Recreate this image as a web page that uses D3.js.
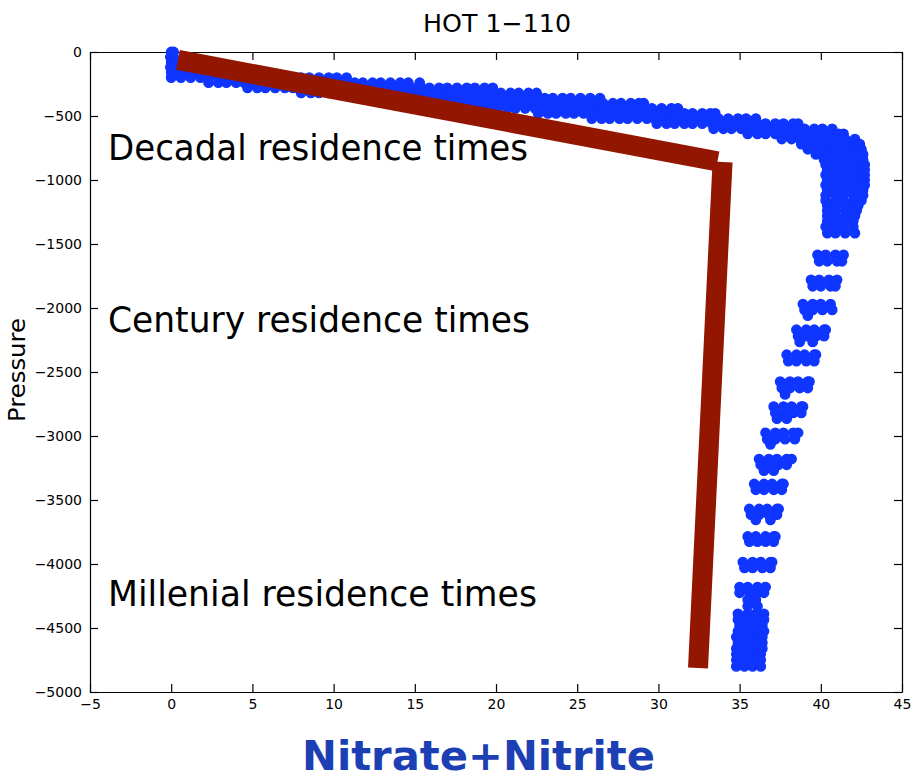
<!DOCTYPE html>
<html><head><meta charset="utf-8">
<script src="https://cdn.jsdelivr.net/npm/d3@7"></script>
<style>body{margin:0;background:#fff}</style>
</head><body>
<svg id="chart" width="919" height="784"></svg>
<script>
// ---------- data ----------
const chartTitle = "HOT 1\u2212110";
const yAxisLabel = "Pressure";
const xAxisLabel = "Nitrate+Nitrite";
const annotationTexts = ["Decadal residence times", "Century residence times", "Millenial residence times"];

const xTickValues = [-5, 0, 5, 10, 15, 20, 25, 30, 35, 40, 45];
const yTickValues = [0, -500, -1000, -1500, -2000, -2500, -3000, -3500, -4000, -4500, -5000];

// sample pressure (dbar) and the nitrate+nitrite values observed at that pressure
const pressureLevels = [
  0, 40, 80, 120, 160, 200, 240, 280, 320, 360, 400, 440, 480, 520, 560, 600, 640, 680, 720, 760,
  800, 840, 880, 920, 960, 1000, 1040, 1080, 1120, 1160, 1200, 1240, 1280, 1320,
  1365, 1415, 1585, 1635, 1780, 1830, 1970, 2015, 2060, 2170, 2220, 2265, 2365, 2415,
  2575, 2625, 2675, 2770, 2820, 2865, 2975, 3025, 3065, 3180, 3225, 3270, 3375, 3420,
  3570, 3615, 3655, 3785, 3825, 3985, 4030, 4180, 4225, 4280, 4330,
  4390, 4435, 4480, 4525, 4570, 4615, 4660, 4705, 4750, 4800
];
const nitrateAtLevel = [
  [0.0, 0.15], [-0.05, 0.15], [0.0, 0.2], [-0.05, 0.2],
  [0.0, 0.5, 1.1, 1.6, 2.2, 2.8, 3.3, 3.9, 4.4, 5.0],
  [0.0, 0.6, 1.2, 1.8, 2.3, 2.9, 3.5, 4.0, 4.6, 5.2, 5.7, 6.3, 6.8, 7.4, 8.0, 8.5, 9.1, 9.7, 10.2, 10.8],
  [2.3, 2.9, 3.4, 4.0, 4.5, 5.1, 5.7, 6.2, 6.8, 7.3, 7.9, 8.5, 9.0, 9.6, 10.1, 10.7, 11.3, 11.8, 12.4, 12.9, 13.5, 14.1, 14.6, 15.3],
  [4.7, 5.3, 5.8, 6.4, 7.0, 7.5, 8.1, 8.6, 9.2, 9.8, 10.3, 10.9, 11.4, 12.0, 12.6, 13.1, 13.7, 14.2, 14.8, 15.4, 15.9, 16.5, 17.0, 17.6, 18.2, 18.7, 19.3, 19.8],
  [8.0, 8.6, 9.1, 9.7, 10.2, 10.8, 11.4, 11.9, 12.5, 13.0, 13.6, 14.2, 14.7, 15.3, 15.8, 16.4, 17.0, 17.5, 18.1, 18.6, 19.2, 19.8, 20.3, 20.9, 21.4, 22.0, 22.5],
  [14.0, 14.6, 15.1, 15.7, 16.2, 16.8, 17.4, 17.9, 18.5, 19.0, 19.6, 20.2, 20.7, 21.3, 21.8, 22.4, 23.0, 23.5, 24.1, 24.6, 25.2, 25.8, 26.4],
  [16.5, 17.1, 17.6, 18.2, 18.8, 19.3, 19.9, 20.4, 21.0, 21.6, 22.1, 22.7, 23.2, 23.8, 24.4, 24.9, 25.5, 26.0, 26.6, 27.2, 27.7, 28.3, 28.8, 29.1],
  [19.0, 19.6, 20.1, 20.7, 21.2, 21.8, 22.4, 22.9, 23.5, 24.0, 24.6, 25.2, 25.7, 26.3, 26.8, 27.4, 28.0, 28.5, 29.1, 29.6, 30.2, 30.8, 31.2],
  [22.6, 23.2, 23.7, 24.3, 24.8, 25.4, 26.0, 26.5, 27.1, 27.6, 28.2, 28.8, 29.3, 29.9, 30.4, 31.0, 31.6, 32.1, 32.7, 33.2, 33.5],
  [25.9, 26.5, 27.0, 27.6, 28.1, 28.7, 29.3, 29.8, 30.4, 30.9, 31.5, 32.1, 32.6, 33.2, 33.7, 34.3, 34.9, 35.4, 36.0],
  [29.9, 30.5, 31.0, 31.6, 32.1, 32.7, 33.3, 33.8, 34.4, 34.9, 35.5, 36.1, 36.6, 37.2, 37.7, 38.3, 38.6],
  [33.4, 34.0, 34.5, 35.1, 35.6, 36.2, 36.8, 37.3, 37.9, 38.4, 39.0, 39.6, 40.1, 40.7],
  [35.5, 36.1, 36.6, 37.2, 37.7, 38.3, 38.9, 39.4, 40.0, 40.5, 41.1, 41.4],
  [37.6, 38.2, 38.7, 39.3, 39.8, 40.4, 41.0, 41.5, 42.1],
  [38.8, 39.4, 39.9, 40.5, 41.0, 41.6, 42.1, 42.4],
  [39.2, 39.8, 40.3, 40.9, 41.4, 42.0, 42.5],
  [39.7, 40.3, 40.8, 41.4, 41.9, 42.4, 42.6],
  [40.2, 40.8, 41.3, 41.9, 42.4, 42.6],
  [40.3, 40.9, 41.4, 42.0, 42.5, 42.7],
  [40.4, 40.9, 41.5, 42.0, 42.4, 42.7],
  [40.3, 40.8, 41.4, 41.9, 42.5, 42.7],
  [40.4, 40.9, 41.5, 42.0, 42.5, 42.7],
  [40.3, 40.9, 41.4, 42.0, 42.4, 42.7],
  [40.4, 40.9, 41.5, 42.1, 42.6],
  [40.3, 40.9, 41.4, 42.0, 42.6],
  [40.3, 40.9, 41.4, 42.0, 42.5],
  [40.4, 40.9, 41.5, 42.0, 42.3],
  [40.4, 40.9, 41.5, 42.0, 42.2],
  [40.4, 40.9, 41.5, 42.1],
  [40.4, 41.0, 41.5, 42.0],
  [40.3, 40.9, 41.4, 42.0], [40.4, 40.9, 41.5, 42.1],
  [39.8, 40.3, 40.9, 41.4], [39.9, 40.4, 41.0, 41.3],
  [39.4, 39.9, 40.5, 41.0], [39.5, 40.0, 40.6, 40.9],
  [38.9, 39.5, 40.0, 40.6], [39.0, 39.5, 40.1, 40.7], [39.2],
  [38.5, 39.1, 39.6, 40.2, 40.3], [38.6, 39.1, 39.7, 40.2], [38.7, 39.5],
  [37.9, 38.5, 39.0, 39.6, 39.7], [38.0, 38.5, 39.1, 39.6],
  [37.5, 38.1, 38.6, 39.2, 39.3], [37.6, 38.1, 38.7, 39.2], [37.8],
  [37.1, 37.7, 38.2, 38.8, 38.9], [37.2, 37.7, 38.3, 38.8], [37.3, 37.9],
  [36.6, 37.2, 37.7, 38.3, 38.6], [36.7, 37.2, 37.8, 38.4], [36.9],
  [36.2, 36.8, 37.3, 37.9, 38.2], [36.3, 36.8, 37.4, 37.9], [36.5, 37.1],
  [35.9, 36.5, 37.0, 37.6, 37.7], [36.0, 36.5, 37.1, 37.6],
  [35.6, 36.2, 36.7, 37.3, 37.4], [35.7, 36.2, 36.8, 37.3], [36.0, 36.9],
  [35.5, 36.0, 36.6, 37.1, 37.2], [35.6, 36.1, 36.6, 37.1],
  [35.2, 35.8, 36.3, 36.9, 37.0], [35.3, 35.8, 36.4, 36.9],
  [35.0, 35.5, 36.1, 36.6], [35.0, 35.6, 36.1, 36.5], [35.5, 36.0], [35.5, 36.1],
  [34.9, 35.5, 36.0, 36.5], [34.9, 35.4, 36.0, 36.5], [35.0, 35.5, 36.1, 36.4],
  [34.9, 35.4, 36.0, 36.5], [34.8, 35.4, 35.9, 36.4], [34.9, 35.4, 36.0, 36.4],
  [34.8, 35.3, 35.9, 36.4], [34.8, 35.4, 35.9, 36.3], [34.8, 35.3, 35.9, 36.3],
  [34.8, 35.3, 35.8, 36.3]
];

// hand-drawn brown guide (two strokes)
const guideNitrate = [[0.42, 33.64], [33.95, 32.44]];
const guidePressure = [[62, 855], [859, 4812]];

// ---------- drawing ----------
const svg = d3.select("#chart");
const plotL = 90, plotR = 902, plotT = 52, plotB = 692;
const blue = "#0f35ff", brown = "#931600";

const x = d3.scaleLinear().domain([-5, 45]).range([plotL, plotR]);
const y = d3.scaleLinear().domain([-5000, 0]).range([plotB, plotT]);

const tickFont = "DejaVu Sans, sans-serif";

function styleAxis(g) {
  g.selectAll("path.domain").attr("stroke", "#000").attr("stroke-width", 1.2);
  g.selectAll(".tick line").attr("stroke", "#000").attr("stroke-width", 1.2);
  g.selectAll("text").attr("font-family", tickFont).attr("font-size", 14).attr("fill", "#000");
}
const fmt = d3.format("d");

svg.append("g").attr("transform", `translate(0,${plotB})`)
  .call(d3.axisBottom(x).tickValues(xTickValues).tickFormat(fmt).tickSizeInner(-8).tickSizeOuter(0).tickPadding(7))
  .call(styleAxis);
svg.append("g").attr("transform", `translate(0,${plotT})`)
  .call(d3.axisTop(x).tickValues(xTickValues).tickFormat("").tickSizeInner(-8).tickSizeOuter(0))
  .call(styleAxis);
svg.append("g").attr("transform", `translate(${plotL},0)`)
  .call(d3.axisLeft(y).tickValues(yTickValues).tickFormat(fmt).tickSizeInner(-8).tickSizeOuter(0).tickPadding(8))
  .call(styleAxis);
svg.append("g").attr("transform", `translate(${plotR},0)`)
  .call(d3.axisRight(y).tickValues(yTickValues).tickFormat("").tickSizeInner(-8).tickSizeOuter(0))
  .call(styleAxis);

// scatter points
const points = [];
pressureLevels.forEach((p, i) => nitrateAtLevel[i].forEach(n => points.push({p, n})));
svg.append("g").selectAll("circle").data(points).join("circle")
  .attr("cx", d => x(d.n)).attr("cy", d => y(-d.p)).attr("r", 4.7)
  .attr("fill", blue).attr("stroke", blue).attr("stroke-width", 1.4);

// brown guide strokes
svg.append("g").selectAll("line").data(guideNitrate.map((n, i) => ({n, p: guidePressure[i]}))).join("line")
  .attr("x1", d => x(d.n[0])).attr("y1", d => y(-d.p[0]))
  .attr("x2", d => x(d.n[1])).attr("y2", d => y(-d.p[1]))
  .attr("stroke", brown).attr("stroke-width", 20).attr("stroke-linecap", "butt");

// title and axis labels
svg.append("text").attr("x", 497).attr("y", 32).attr("text-anchor", "middle")
  .attr("font-family", tickFont).attr("font-size", 25).attr("textLength", 148)
  .attr("lengthAdjust", "spacingAndGlyphs").text(chartTitle);
svg.append("text").attr("transform", "translate(25,370) rotate(-90)").attr("text-anchor", "middle")
  .attr("font-family", tickFont).attr("font-size", 23).attr("textLength", 104)
  .attr("lengthAdjust", "spacingAndGlyphs").text(yAxisLabel);
svg.append("text").attr("x", 302).attr("y", 770)
  .attr("font-family", "DejaVu Sans, sans-serif").attr("font-weight", "bold").attr("font-size", 40)
  .attr("fill", "#1c3fb4").attr("textLength", 353).attr("lengthAdjust", "spacingAndGlyphs").text(xAxisLabel);

// annotations
const annX = 108, annY = [160, 332, 606], annLen = [420, 422, 429];
svg.append("g").selectAll("text").data(annotationTexts).join("text")
  .attr("x", annX).attr("y", (d, i) => annY[i])
  .attr("font-family", "DejaVu Sans, sans-serif").attr("font-size", 35).attr("fill", "#000")
  .attr("textLength", (d, i) => annLen[i]).attr("lengthAdjust", "spacingAndGlyphs")
  .text(d => d);
</script>
</body></html>
